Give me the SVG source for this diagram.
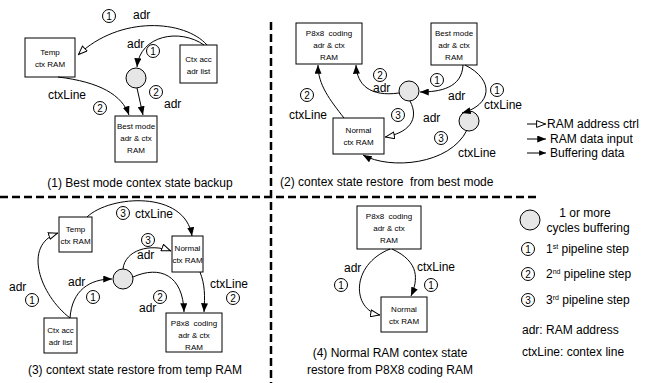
<svg xmlns="http://www.w3.org/2000/svg" width="645" height="383" viewBox="0 0 645 383">
<defs>
<marker id="fa" viewBox="0 0 10 8" refX="10" refY="4" markerWidth="9" markerHeight="7" orient="auto" markerUnits="userSpaceOnUse"><path d="M0,0 L10,4 L0,8 z" fill="#000"/></marker>
<marker id="ha" viewBox="0 0 10 8" refX="10" refY="4" markerWidth="10" markerHeight="8" orient="auto" markerUnits="userSpaceOnUse"><path d="M0.6,0.6 L9.4,4 L0.6,7.4 z" fill="#fff" stroke="#000" stroke-width="1"/></marker>
<marker id="sa" viewBox="0 0 10 8" refX="10" refY="4" markerWidth="7" markerHeight="5.5" orient="auto" markerUnits="userSpaceOnUse"><path d="M0,0 L10,4 L0,8 z" fill="#000"/></marker>
<style>
text{font-family:"Liberation Sans",Arial,sans-serif;fill:#000}
.box{fill:#fff;stroke:#000;stroke-width:1}
.bt{font-size:8px;text-anchor:middle}
.lb{font-size:12px}
.cap{font-size:12px;text-anchor:middle}
.buf{fill:#e6e6e6;stroke:#000;stroke-width:1}
.n circle{fill:#fff;stroke:#000;stroke-width:1}
.n text{font-size:10px;text-anchor:middle}
.c{fill:none;stroke:#000;stroke-width:1}
.f{marker-end:url(#fa)}
.h{marker-end:url(#ha)}
.dash{fill:none;stroke:#000;stroke-width:2.5;stroke-dasharray:8 4}
</style>
</defs>

<!-- dividers -->
<path class="dash" d="M0 197 H540"/>
<path class="dash" d="M271 22 V383"/>

<!-- Quadrant 1 -->
<g id="q1-temp"><rect class="box" x="25" y="38" width="50" height="39"/><text class="bt" x="50" y="55">Temp</text><text class="bt" x="50" y="67">ctx RAM</text></g>
<g id="q1-ctxacc"><rect class="box" x="180" y="45" width="37" height="38"/><text class="bt" x="198.5" y="62">Ctx acc</text><text class="bt" x="198.5" y="74">adr list</text></g>
<g id="q1-buf"><circle class="buf" cx="136" cy="78" r="10"/></g>
<g id="q1-best"><rect class="box" x="115" y="116" width="42" height="46"/><text class="bt" x="136" y="129">Best mode</text><text class="bt" x="136" y="141">adr &amp; ctx</text><text class="bt" x="136" y="153">RAM</text></g>

<!-- Quadrant 2 -->
<g id="q2-p8x8"><rect class="box" x="296" y="23" width="66" height="41"/><text class="bt" x="329" y="36" xml:space="preserve">P8x8  coding</text><text class="bt" x="329" y="48">adr &amp; ctx</text><text class="bt" x="329" y="60">RAM</text></g>
<g id="q2-best"><rect class="box" x="431" y="23" width="46" height="42"/><text class="bt" x="454" y="36">Best mode</text><text class="bt" x="454" y="48">adr &amp; ctx</text><text class="bt" x="454" y="60">RAM</text></g>
<g id="q2-buf1"><circle class="buf" cx="409" cy="91" r="10"/></g>
<g id="q2-buf2"><circle class="buf" cx="469" cy="121" r="10"/></g>
<g id="q2-normal"><rect class="box" x="333" y="118" width="51" height="36"/><text class="bt" x="358.5" y="133">Normal</text><text class="bt" x="358.5" y="145">ctx RAM</text></g>

<!-- Quadrant 3 -->
<g id="q3-temp"><rect class="box" x="59" y="217" width="33" height="35"/><text class="bt" x="75.5" y="232">Temp</text><text class="bt" x="75.5" y="244">ctx RAM</text></g>
<g id="q3-normal"><rect class="box" x="172" y="236" width="31" height="36"/><text class="bt" x="187.5" y="251">Normal</text><text class="bt" x="187.5" y="263">ctx RAM</text></g>
<g id="q3-buf"><circle class="buf" cx="123" cy="279" r="10"/></g>
<g id="q3-ctxacc"><rect class="box" x="44" y="318" width="33" height="35"/><text class="bt" x="60.5" y="333">Ctx acc</text><text class="bt" x="60.5" y="345">adr list</text></g>
<g id="q3-p8x8"><rect class="box" x="166" y="313" width="56" height="39"/><text class="bt" x="194" y="326" xml:space="preserve">P8x8  coding</text><text class="bt" x="194" y="338">adr &amp; ctx</text><text class="bt" x="194" y="350">RAM</text></g>

<!-- Quadrant 4 -->
<g id="q4-p8x8"><rect class="box" x="357" y="206" width="64" height="43"/><text class="bt" x="389" y="219" xml:space="preserve">P8x8  coding</text><text class="bt" x="389" y="231">adr &amp; ctx</text><text class="bt" x="389" y="243">RAM</text></g>
<g id="q4-normal"><rect class="box" x="381" y="297" width="46" height="35"/><text class="bt" x="404" y="312">Normal</text><text class="bt" x="404" y="324">ctx RAM</text></g>

<!-- connectors -->
<g id="connectors">
<path class="c h" d="M207 45 C185 20 120 15 78 55"/>
<path class="c f" d="M204 45 C180 28 140 35 137 67"/>
<path class="c f" d="M137 88 L143 115"/>
<path class="c f" d="M58 77 C100 82 122 95 129 115"/>

<path class="c f" d="M463 65 C462 88 440 92 420 92"/>
<path class="c f" d="M465 65 C495 80 492 105 462 113"/>
<path class="c f" d="M399 93 C370 97 357 85 356 65"/>
<path class="c h" d="M410 101 C420 120 408 133 385 137"/>
<path class="c f" d="M344 118 C330 100 318 85 318 65"/>
<path class="c f" d="M467 130 C450 165 390 170 363 155"/>

<path class="c h" d="M70 318 C40 295 22 245 58 233"/>
<path class="c f" d="M70 318 C72 290 90 279 112 279"/>
<path class="c f" d="M87 217 C110 195 185 190 192 236"/>
<path class="c h" d="M123 269 C125 250 150 243 171 251"/>
<path class="c f" d="M133 277 C160 265 183 275 184 312"/>
<path class="c f" d="M200 272 C205 285 205 295 204 312"/>

<path class="c h" d="M390 249 C350 265 352 310 380 315"/>
<path class="c f" d="M392 249 C420 262 418 280 411 296"/>
</g>

<!-- labels -->
<g id="labels">
<g class="n"><circle cx="109" cy="16" r="6.5"/><text x="109" y="19.5">1</text></g>
<text class="lb" x="133" y="19">adr</text>
<text class="lb" x="127" y="48">adr</text>
<g class="n"><circle cx="153" cy="51" r="6.5"/><text x="153" y="54.5">1</text></g>
<g class="n"><circle cx="156" cy="92" r="6.5"/><text x="156" y="95.5">2</text></g>
<text class="lb" x="164" y="108">adr</text>
<text class="lb" x="48" y="99">ctxLine</text>
<g class="n"><circle cx="100" cy="108" r="6.5"/><text x="100" y="111.5">2</text></g>
<text class="cap" x="140" y="187">(1) Best mode contex state backup</text>

<g class="n"><circle cx="380" cy="75" r="6.5"/><text x="380" y="78.5">2</text></g>
<text class="lb" x="373" y="92">adr</text>
<g class="n"><circle cx="437" cy="80" r="6.5"/><text x="437" y="83.5">1</text></g>
<text class="lb" x="448" y="100">adr</text>
<g class="n"><circle cx="497" cy="90" r="6.5"/><text x="497" y="93.5">1</text></g>
<text class="lb" x="484" y="109">ctxLine</text>
<g class="n"><circle cx="307" cy="95" r="6.5"/><text x="307" y="98.5">2</text></g>
<text class="lb" x="289" y="119">ctxLine</text>
<g class="n"><circle cx="398" cy="115" r="6.5"/><text x="398" y="118.5">3</text></g>
<text class="lb" x="423" y="122">adr</text>
<g class="n"><circle cx="441" cy="138" r="6.5"/><text x="441" y="141.5">3</text></g>
<text class="lb" x="458" y="157">ctxLine</text>
<text class="lb" x="280" y="186" xml:space="preserve">(2) contex state restore  from best mode</text>

<g class="n"><circle cx="123" cy="213" r="6.5"/><text x="123" y="216.5">3</text></g>
<text class="lb" x="135" y="218">ctxLine</text>
<g class="n"><circle cx="148" cy="240" r="6.5"/><text x="148" y="243.5">3</text></g>
<text class="lb" x="137" y="259">adr</text>
<text class="lb" x="68" y="286">adr</text>
<g class="n"><circle cx="93" cy="297" r="6.5"/><text x="93" y="300.5">1</text></g>
<text class="lb" x="9" y="291">adr</text>
<g class="n"><circle cx="32" cy="300" r="6.5"/><text x="32" y="303.5">1</text></g>
<g class="n"><circle cx="160" cy="297" r="6.5"/><text x="160" y="300.5">2</text></g>
<text class="lb" x="139" y="312">adr</text>
<text class="lb" x="210" y="288">ctxLine</text>
<g class="n"><circle cx="233" cy="298" r="6.5"/><text x="233" y="301.5">2</text></g>
<text class="cap" x="135" y="374">(3) context state restore from temp RAM</text>

<text class="lb" x="344" y="272">adr</text>
<g class="n"><circle cx="341" cy="285" r="6.5"/><text x="341" y="288.5">1</text></g>
<text class="lb" x="417" y="271">ctxLine</text>
<g class="n"><circle cx="431" cy="285" r="6.5"/><text x="431" y="288.5">1</text></g>
<text class="cap" x="390" y="357">(4) Normal RAM contex state</text>
<text class="cap" x="390" y="374">restore from P8X8 coding RAM</text>
</g>

<!-- legend -->
<g id="legend">
<path class="c h" d="M527 124 H546"/>
<text class="lb" x="547" y="128">RAM address ctrl</text>
<path class="c f" d="M527 139 H546"/>
<text class="lb" x="550" y="143">RAM data input</text>
<path class="c" d="M527 153 H546" marker-end="url(#sa)"/>
<text class="lb" x="550" y="157">Buffering data</text>
<circle class="buf" cx="530" cy="220" r="10"/>
<text class="cap" x="585" y="217">1 or more</text>
<text class="cap" x="588" y="232">cycles buffering</text>
<g class="n"><circle cx="528" cy="249" r="6.5"/><text x="528" y="252.5">1</text></g>
<text class="lb" x="546" y="253">1<tspan font-size="7" dy="-4">st</tspan><tspan dy="4"> pipeline step</tspan></text>
<g class="n"><circle cx="528" cy="274" r="6.5"/><text x="528" y="277.5">2</text></g>
<text class="lb" x="546" y="278">2<tspan font-size="7" dy="-4">nd</tspan><tspan dy="4"> pipeline step</tspan></text>
<g class="n"><circle cx="528" cy="300" r="6.5"/><text x="528" y="303.5">3</text></g>
<text class="lb" x="546" y="304">3<tspan font-size="7" dy="-4">rd</tspan><tspan dy="4"> pipeline step</tspan></text>
<text class="lb" x="522" y="334">adr: RAM address</text>
<text class="lb" x="522" y="356">ctxLine: contex line</text>
</g>
</svg>
